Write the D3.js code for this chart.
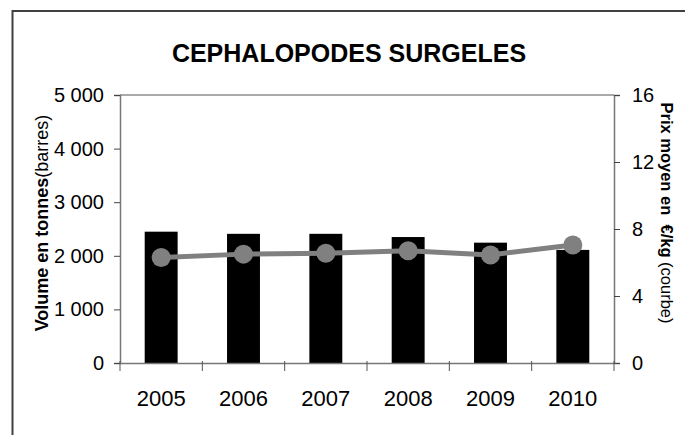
<!DOCTYPE html>
<html>
<head>
<meta charset="utf-8">
<script src="https://cdn.jsdelivr.net/npm/d3@7"></script>
<style>
  body { margin: 0; background: #fff; }
  text { font-family: Arial, "Liberation Sans", sans-serif; fill: #000; }
</style>
</head>
<body>
<div id="figure"></div>
<script>
// data
var years = ["2005", "2006", "2007", "2008", "2009", "2010"];
var volumes = [2450, 2410, 2410, 2350, 2245, 2110];
var prices = [6.3, 6.5, 6.55, 6.7, 6.45, 7.05];
var volumeTicks = [0, 1000, 2000, 3000, 4000, 5000];
var priceTicks = [0, 4, 8, 12, 16];

const W = 685, H = 435;
const margin = { top: 95, right: 71, bottom: 72, left: 120 };
const width = W - margin.left - margin.right;
const height = H - margin.top - margin.bottom;

const root = d3.select("#figure")
    .append("svg")
    .attr("width", W)
    .attr("height", H);

// outer frame (top and left edges visible)
root.append("path")
    .attr("d", `M12.5,${H} L12.5,11 L${W},11`)
    .attr("fill", "none")
    .attr("stroke", "#404040")
    .attr("stroke-width", 2);

root.append("text")
    .attr("x", 349)
    .attr("y", 62)
    .attr("text-anchor", "middle")
    .attr("font-size", 25)
    .attr("font-weight", "bold")
    .text("CEPHALOPODES SURGELES");

const svg = root.append("g")
    .attr("transform", `translate(${margin.left},${margin.top})`);

const x = d3.scaleBand().domain(years).range([0, width]).padding(0);
const y = d3.scaleLinear().domain([0, 5000]).range([height, 0]);
const y2 = d3.scaleLinear().domain([0, 16]).range([height, 0]);

// top border of plot area
svg.append("line")
    .attr("x1", 0).attr("x2", width)
    .attr("y1", 0).attr("y2", 0)
    .attr("stroke", "#8c8c8c")
    .attr("stroke-width", 1.5);

// bars
const barW = x.bandwidth() * 0.4;
svg.selectAll("rect.bar")
    .data(years)
    .join("rect")
    .attr("class", "bar")
    .attr("x", (d, i) => x(d) + (x.bandwidth() - barW) / 2)
    .attr("y", (d, i) => y(volumes[i]))
    .attr("width", barW)
    .attr("height", (d, i) => height - y(volumes[i]))
    .attr("fill", "#000");

// left axis
const fmt = d => d3.format(",")(d).replace(/,/g, "\u00a0");
const yAxis = svg.append("g")
    .call(d3.axisLeft(y).tickValues(volumeTicks).tickFormat(fmt).tickSize(6).tickPadding(10));
yAxis.selectAll("text").attr("font-size", 20);

// right axis
const y2Axis = svg.append("g")
    .attr("transform", `translate(${width},0)`)
    .call(d3.axisRight(y2).tickValues(priceTicks).tickSize(6).tickPadding(12));
y2Axis.selectAll("text").attr("font-size", 20);

// bottom axis: ticks at category boundaries
const xAxis = svg.append("g")
    .attr("transform", `translate(0,${height})`)
    .call(d3.axisBottom(x).tickSize(0).tickPadding(27));
xAxis.selectAll("text").attr("font-size", 22);
xAxis.selectAll(".bound")
    .data(years.concat(["end"]))
    .join("line")
    .attr("class", "bound")
    .attr("x1", (d, i) => i * x.bandwidth())
    .attr("x2", (d, i) => i * x.bandwidth())
    .attr("y1", -2)
    .attr("y2", 8)
    .attr("stroke", "#555");

[yAxis, y2Axis, xAxis].forEach(a => {
    a.select(".domain").attr("stroke", "#777").attr("stroke-width", 1.5);
    a.selectAll(".tick line").attr("stroke", "#444");
    a.selectAll("text").attr("fill", "#000").attr("font-family", "Arial, 'Liberation Sans', sans-serif");
});

// price line
const line = d3.line()
    .x((d, i) => x(years[i]) + x.bandwidth() / 2)
    .y(d => y2(d));
svg.append("path")
    .datum(prices)
    .attr("d", line)
    .attr("fill", "none")
    .attr("stroke", "#808080")
    .attr("stroke-width", 5);
svg.selectAll("circle.pt")
    .data(prices)
    .join("circle")
    .attr("class", "pt")
    .attr("cx", (d, i) => x(years[i]) + x.bandwidth() / 2)
    .attr("cy", d => y2(d))
    .attr("r", 9.5)
    .attr("fill", "#808080");

// axis titles
const lt = root.append("text")
    .attr("transform", `translate(48,${margin.top + height / 2 - 6}) rotate(-90)`)
    .attr("text-anchor", "middle")
    .attr("font-size", 18);
lt.append("tspan").attr("font-weight", "bold").text("Volume en tonnes");
lt.append("tspan").text("(barres)");

const rt = root.append("text")
    .attr("transform", `translate(661,${margin.top + height / 2 - 16}) rotate(90)`)
    .attr("text-anchor", "middle")
    .attr("font-size", 16.5);
rt.append("tspan").attr("font-weight", "bold").text("Prix moyen en \u00a0€/kg");
rt.append("tspan").text(" (courbe)");
</script>
</body>
</html>
